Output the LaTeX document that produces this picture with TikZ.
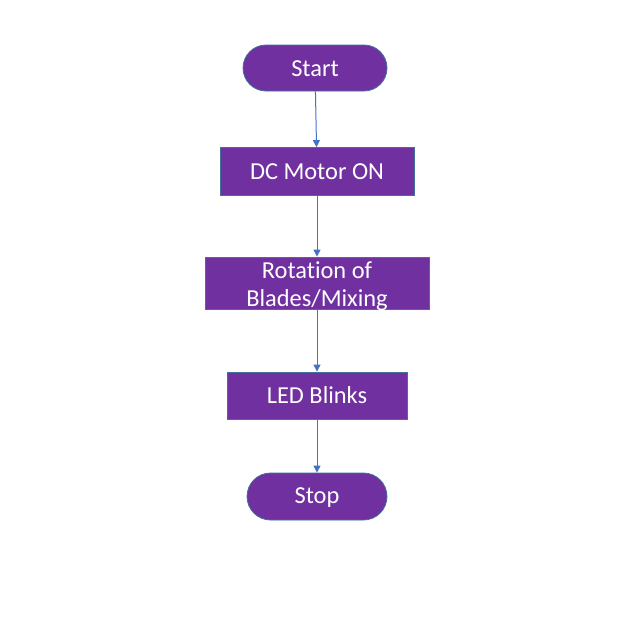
\documentclass[tikz,border=0pt]{standalone}
\usepackage{fontspec}
\setmainfont{Carlito}[Ligatures={NoCommon}]
\usetikzlibrary{arrows.meta,shapes.misc}
\definecolor{fillpurple}{HTML}{7030A0}
\definecolor{edgeblue}{HTML}{41719C}
\definecolor{arrowblue}{HTML}{4472C4}
\begin{document}
\begin{tikzpicture}[x=1pt,y=-1pt,
  boxstyle/.style={draw=edgeblue,line width=0.8pt,fill=fillpurple,text=white,
    font=\fontsize{24.4}{29}\selectfont,inner sep=0pt,align=center},
  pill/.style={boxstyle,rounded rectangle},
  flow/.style={draw=arrowblue,line width=1pt,-{Triangle[width=7pt,length=7pt]}}]
\useasboundingbox (0,0) rectangle (619,619);
\fill[white] (0,0) rectangle (619,619);
\node[pill,minimum width=144pt,minimum height=46pt] (start) at (315,68) {\raisebox{-1pt}[\height][\depth]{Start}};
\node[boxstyle,minimum width=194pt,minimum height=48pt] (dc) at (317,171.5) {DC Motor ON};
\node[boxstyle,minimum width=224pt,minimum height=52pt] (rot) at (317,283) {\raisebox{-10pt}[10pt][10pt]{\begin{tabular}{@{}c@{}}Rotation of\\[-1pt]Blades/Mixing\end{tabular}}};
\node[boxstyle,minimum width=180pt,minimum height=47pt] (led) at (317,395.5) {LED Blinks};
\node[pill,minimum width=140pt,minimum height=47pt] (stop) at (317,496.5) {\raisebox{-1pt}[\height][\depth]{Stop}};
\draw[flow] (start) -- (dc);
\draw[flow] (dc) -- (rot);
\draw[flow] (rot) -- (led);
\draw[flow] (led) -- (stop);
\end{tikzpicture}
\end{document}
